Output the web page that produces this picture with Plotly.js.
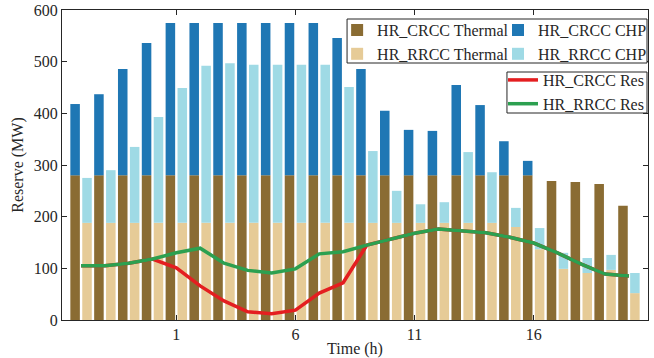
<!DOCTYPE html>
<html>
<head>
<meta charset="utf-8">
<script src="https://cdn.plot.ly/plotly-3.0.1.min.js"></script>
<style>html,body{margin:0;padding:0;background:#fff;}#chart{width:654px;height:358px;}</style>
</head>
<body>
<div id="chart"></div>
<script>
// ---- data ----
var hours = [1,2,3,4,5,6,7,8,9,10,11,12,13,14,15,16,17,18,19,20,21,22,23,24];
var tickPositions = [5,10,15,20];
var tickLabels = ['1','6','11','16'];

var crccThermal = [280,280,280,280,280,280,280,280,280,280,280,280,280,280,280,280,280,280,280,280,269,267,263,221];
var crccChp     = [138,157,206,256,295,295,295,295,295,295,295,266,206,125,88,86,175,136,66,28,0,0,0,0];
var rrccThermal = [188,188,188,188,188,188,188,188,188,188,188,188,188,188,188,188,188,188,180,137,99,91,97,52];
var rrccChp     = [87,102,147,205,261,304,309,306,306,306,306,263,139,62,36,40,137,98,37,41,31,29,29,39];

var crccRes = [105,105,110,118,101,66,37,16,12,19,52,72,145,157,168,176,173,169,160,149,130,108,89,85];
var rrccRes = [105,105,110,118,130,139,110,96,91,99,128,132,145,157,168,176,173,169,160,149,130,108,89,85];

var names = ['HR_CRCC Thermal','HR_CRCC CHP','HR_RRCC Thermal','HR_RRCC CHP','HR_CRCC Res','HR_RRCC Res'];
var colors = ['#8A6C33','#1F77B4','#E6CB97','#9FDAE5','#E41E20','#2CA050'];

// ---- build traces ----
var BW = 0.4;
function bar(y, base, name, color, offset, legend) {
  var t = {type:'bar', x:hours, y:y, name:name, width:BW, offset:offset,
    marker:{color:color, line:{width:0}}, legend:legend, hoverinfo:'skip'};
  if (base) t.base = base;
  return t;
}
var data = [
  bar(crccThermal, null, names[0], colors[0], -0.45, 'legend'),
  bar(crccChp, crccThermal, names[1], colors[1], -0.45, 'legend2'),
  bar(rrccThermal, null, names[2], colors[2], 0.05, 'legend'),
  bar(rrccChp, rrccThermal, names[3], colors[3], 0.05, 'legend2'),
  {type:'scatter', mode:'lines', x:hours, y:crccRes, name:names[4], line:{color:colors[4], width:3.5}, legend:'legend3', hoverinfo:'skip'},
  {type:'scatter', mode:'lines', x:hours, y:rrccRes, name:names[5], line:{color:colors[5], width:3.5}, legend:'legend3', hoverinfo:'skip'}
];

var axisColor = '#262626';
var font = {family:'Liberation Serif, Times New Roman, serif', size:16, color:axisColor};
var legBase = {bgcolor:'rgba(0,0,0,0)', borderwidth:0, font:font, xanchor:'left', yanchor:'top', traceorder:'normal', itemwidth:30};

var layout = {
  width:654, height:358,
  margin:{l:62, r:2, t:10, b:38},
  paper_bgcolor:'#fff', plot_bgcolor:'#fff',
  font:font,
  barmode:'overlay',
  showlegend:true,
  xaxis:{
    range:[0.2, 24.8], tickmode:'array', tickvals:tickPositions, ticktext:tickLabels,
    ticks:'inside', ticklen:5, tickcolor:axisColor, tickwidth:1,
    showline:true, linecolor:axisColor, linewidth:1, mirror:'ticks',
    showgrid:false, zeroline:false, tickfont:font,
    title:{text:'Time (h)', font:font, standoff:5}
  },
  yaxis:{
    range:[0,600], dtick:100, tick0:0,
    ticks:'inside', ticklen:5, tickcolor:axisColor, tickwidth:1,
    showline:true, linecolor:axisColor, linewidth:1, mirror:'ticks',
    showgrid:false, zeroline:false, tickfont:font,
    title:{text:'Reserve (MW)', font:font, standoff:6}
  },
  legend: Object.assign({}, legBase, {x:(339-62)/590, y:0.99}),
  legend2: Object.assign({}, legBase, {x:(501-62)/590, y:0.99}),
  legend3: Object.assign({}, legBase, {x:(506-62)/590, y:0.829}),
  shapes:[
    {type:'rect', xref:'paper', yref:'paper', x0:(349-62)/590, x1:(651-62)/590, y0:(320-63)/310, y1:(320-19)/310,
     line:{color:axisColor, width:1}, fillcolor:'#fff', layer:'above'},
    {type:'rect', xref:'paper', yref:'paper', x0:(510-62)/590, x1:(651-62)/590, y0:(320-113)/310, y1:(320-72)/310,
     line:{color:axisColor, width:1}, fillcolor:'#fff', layer:'above'}
  ]
};

Plotly.newPlot('chart', data, layout, {staticPlot:true, displayModeBar:false});
</script>
</body>
</html>
